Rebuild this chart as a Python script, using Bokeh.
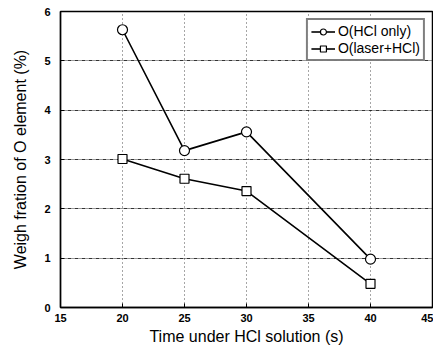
from bokeh.plotting import figure
from bokeh.models import Range1d, Legend, LegendItem, FixedTicker
from bokeh.embed import file_html
from bokeh.resources import INLINE

time_s = [20, 25, 30, 40]
o_hcl_only = [5.63, 3.18, 3.56, 0.98]
o_laser_hcl = [3.01, 2.61, 2.36, 0.48]
x_ticks = [15, 20, 25, 30, 35, 40, 45]
y_ticks = [0, 1, 2, 3, 4, 5, 6]

p = figure(width=433, height=350, output_backend="svg", toolbar_location=None,
           x_range=Range1d(15, 45), y_range=Range1d(0, 6),
           min_border_left=60, min_border_right=1, min_border_top=11, min_border_bottom=43)
p.background_fill_color = "white"
p.border_fill_color = "white"
p.outline_line_color = "black"
p.outline_line_width = 1.5

font = "Liberation Sans"
for ax in (p.xaxis[0], p.yaxis[0]):
    ax.axis_label_text_font = font
    ax.axis_label_text_font_style = "normal"
    ax.axis_label_text_font_size = "16px"
    ax.axis_label_text_color = "black"
    ax.major_label_text_font = font
    ax.major_label_text_font_style = "bold"
    ax.major_label_text_font_size = "11px"
    ax.major_label_text_color = "black"
    ax.minor_tick_line_color = None
    ax.major_tick_line_color = "black"
    ax.major_tick_in = 4
    ax.major_tick_out = 0
    ax.axis_line_color = "black"
    ax.axis_line_width = 1.3

p.xaxis.ticker = FixedTicker(ticks=x_ticks)
p.yaxis.ticker = FixedTicker(ticks=y_ticks)
p.xaxis.axis_label = "Time under HCl solution (s)"
p.yaxis.axis_label = "Weigh fration of O element (%)"
p.xaxis.axis_label_standoff = 3
p.yaxis.axis_label_standoff = 12
p.xaxis.major_label_standoff = 6
p.yaxis.major_label_standoff = 10

p.xgrid.grid_line_color = "black"
p.xgrid.grid_line_dash = "1 3"
p.xgrid.grid_line_alpha = 0.7
p.ygrid.grid_line_color = "black"
p.ygrid.grid_line_dash = "4 1 1 1"
p.ygrid.grid_line_alpha = 0.8

l1 = p.line(time_s, o_hcl_only, line_color="black", line_width=1.6)
m1 = p.scatter(time_s, o_hcl_only, marker="circle", size=10, fill_color="white",
               line_color="black", line_width=1.2)
l2 = p.line(time_s, o_laser_hcl, line_color="black", line_width=1.6)
m2 = p.scatter(time_s, o_laser_hcl, marker="square", size=9, fill_color="white",
               line_color="black", line_width=1.2)

legend = Legend(items=[LegendItem(label="O(HCl only)", renderers=[l1, m1]),
                       LegendItem(label="O(laser+HCl)", renderers=[l2, m2])],
                location="top_right")
legend.border_line_color = "black"
legend.border_line_width = 2
legend.label_text_font = font
legend.label_text_font_size = "14px"
legend.label_text_color = "black"
legend.glyph_width = 24
legend.label_standoff = 3
legend.spacing = 1
legend.padding = 3
legend.margin = 7
legend.label_height = 15
legend.glyph_height = 15
p.add_layout(legend)

open("out.html", "w").write(file_html(p, INLINE))
